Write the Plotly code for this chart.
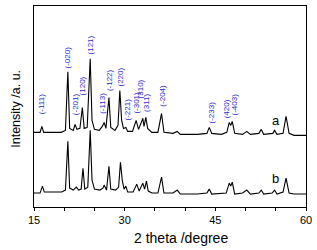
import plotly.graph_objects as go

# ---- data ----
two_theta_a = [15.0, 16.0, 16.3, 16.6, 19.5, 20.2, 20.6, 20.9, 21.5, 21.8, 22.1, 22.6, 23.0, 23.3,
               23.8, 24.3, 24.6, 25.0, 25.8, 26.3, 26.6, 26.9, 27.4, 27.7, 28.4, 28.9, 29.2, 29.5,
               29.8, 30.2, 30.5, 31.3, 31.9, 32.3, 33.0, 33.2, 33.5, 33.8, 34.5, 35.5, 36.1, 36.5,
               38.0, 38.7, 39.2, 40.5, 42.0, 43.6, 44.0, 44.4, 46.0, 46.9, 47.3, 47.55, 47.8, 48.2,
               49.5, 50.2, 50.8, 52.2, 52.6, 53.0, 54.5, 54.8, 55.2, 56.2, 56.7, 57.2, 58.0, 60.0]
intensity_a = [750, 750, 810, 750, 750, 770, 1360, 790, 770, 830, 780, 790, 1000, 790,
               800, 1490, 870, 780, 770, 810, 850, 790, 1100, 800, 770, 820, 1170, 870,
               790, 800, 760, 760, 870, 780, 890, 810, 900, 790, 750, 750, 940, 750,
               740, 760, 730, 730, 730, 740, 800, 740, 730, 750, 850, 820, 860, 740,
               730, 760, 730, 740, 780, 730, 740, 770, 730, 740, 910, 740, 720, 720]

two_theta_b = [15.0, 16.0, 16.4, 16.7, 19.6, 20.2, 20.6, 20.9, 21.5, 22.0, 22.4, 22.8, 23.1, 23.4,
               23.9, 24.3, 24.6, 25.0, 25.9, 26.4, 26.6, 27.0, 27.4, 27.7, 28.5, 29.0, 29.3, 29.6,
               29.9, 30.2, 30.5, 31.4, 32.0, 32.4, 33.0, 33.3, 33.6, 33.9, 34.5, 35.5, 36.1, 36.5,
               38.0, 38.7, 39.2, 42.0, 43.6, 44.0, 44.4, 46.8, 47.3, 47.55, 47.8, 48.2, 49.5, 50.2,
               50.8, 52.2, 52.6, 53.0, 54.4, 54.8, 55.2, 56.2, 56.7, 57.2, 58.0, 60.0]
intensity_b = [140, 140, 210, 150, 150, 170, 660, 190, 170, 200, 170, 180, 390, 180,
               200, 770, 270, 180, 170, 190, 220, 170, 410, 180, 170, 200, 450, 270,
               180, 210, 150, 150, 230, 160, 240, 180, 260, 160, 140, 140, 300, 140,
               140, 170, 130, 130, 140, 180, 130, 140, 240, 210, 250, 130, 140, 170,
               130, 140, 170, 130, 140, 170, 130, 150, 290, 140, 130, 130]

hkl_labels = ["(-111)", "(-020)", "(-201)", "(120)", "(121)", "(-113)", "(-122)", "(220)",
              "(-221)", "(-301)", "(310)", "(311)", "(-204)", "(-233)", "(420)", "(-403)"]
hkl_two_theta = [16.3, 20.6, 21.9, 23.0, 24.3, 26.4, 27.5, 29.3,
                 30.4, 31.9, 32.6, 33.6, 36.2, 44.3, 47.0, 48.1]
hkl_label_base = [910, 1370, 900, 1100, 1510, 920, 1140, 1190,
                  850, 920, 1070, 940, 990, 820, 870, 900]

x_ticks = [15, 20, 25, 30, 35, 40, 45, 50, 55, 60]
x_tick_text = ["15", "", "", "30", "", "", "45", "", "", "60"]

fig = go.Figure()
fig.add_trace(go.Scatter(x=two_theta_a, y=intensity_a, mode="lines",
                         line=dict(color="black", width=1.1), showlegend=False))
fig.add_trace(go.Scatter(x=two_theta_b, y=intensity_b, mode="lines",
                         line=dict(color="black", width=1.1), showlegend=False))

for lab, xx, yy in zip(hkl_labels, hkl_two_theta, hkl_label_base):
    fig.add_annotation(x=xx, y=yy, text=lab, textangle=-90, showarrow=False,
                       xanchor="center", yanchor="bottom",
                       font=dict(family="Liberation Sans, Arial", size=8, color="#2a2ad0"))

fig.add_annotation(x=55.0, y=870, text="a", showarrow=False, xanchor="center", yanchor="middle",
                   font=dict(family="Liberation Sans, Arial", size=13, color="black"))
fig.add_annotation(x=55.0, y=290, text="b", showarrow=False, xanchor="center", yanchor="middle",
                   font=dict(family="Liberation Sans, Arial", size=13, color="black"))

fig.add_annotation(xref="paper", yref="paper", x=0.54, y=-0.153, text="2 theta /degree",
                   showarrow=False, xanchor="center", yanchor="middle",
                   font=dict(family="Liberation Sans, Arial", size=14, color="black"))
fig.add_annotation(xref="paper", yref="paper", x=-0.069, y=0.49, text="Intensity /a. u.",
                   textangle=-90, showarrow=False, xanchor="center", yanchor="middle",
                   font=dict(family="Liberation Sans, Arial", size=12.5, color="black"))

fig.update_layout(
    width=317, height=250,
    margin=dict(l=34, r=9, t=5, b=43),
    paper_bgcolor="white", plot_bgcolor="white",
    font=dict(family="Liberation Sans, Arial", size=11, color="black"),
)
fig.update_xaxes(range=[15, 60], tickvals=x_ticks, ticktext=x_tick_text,
                 ticks="outside", ticklen=3, tickwidth=1, tickcolor="black",
                 showline=True, linecolor="black", linewidth=1, mirror=True,
                 showgrid=False, zeroline=False, tickfont=dict(size=11))
fig.update_yaxes(range=[0, 2020], showticklabels=False, ticks="",
                 showline=True, linecolor="black", linewidth=1, mirror=True,
                 showgrid=False, zeroline=False)

fig.write_html("out.html")
